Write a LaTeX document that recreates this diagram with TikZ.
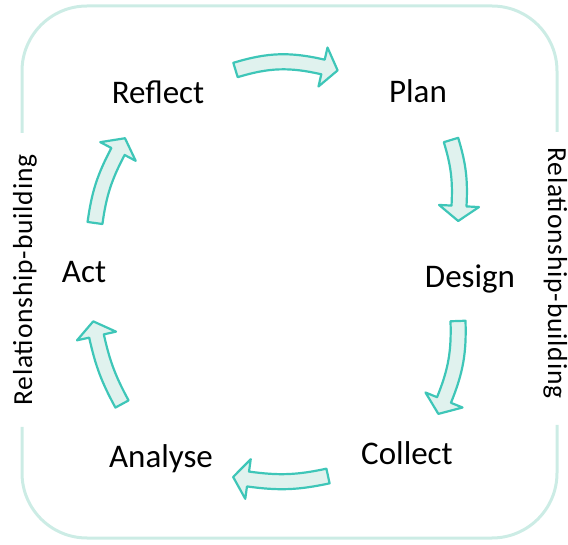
\documentclass[tikz,border=0pt]{standalone}
\usepackage{fontspec}
\setmainfont{Carlito}
\usepackage{tikz}
\usetikzlibrary{calc}
\definecolor{framecol}{RGB}{204, 236, 229}
\definecolor{cycleline}{RGB}{62, 198, 184}
\definecolor{cyclefill}{RGB}{224, 242, 238}
\tikzstyle{stage} = [draw=none, fill=none, text centered, anchor=base, font=\fontsize{33}{39}\selectfont]
\tikzstyle{side} = [draw=none, fill=none, text centered, anchor=base, font=\fontsize{27.5}{33}\selectfont\addfontfeatures{LetterSpace=3}]
\tikzstyle{frame} = [draw=framecol, line width=3pt, rounded corners=65pt]
\tikzstyle{flow} = [draw=cycleline, line width=2.2pt, fill=cyclefill, line join=round]
\def\shaftw{7.5pt}
\def\headw{20pt}
\def\headl{15pt}
% block arrow: tail, neck, bend
\newcommand{\flowarrow}[3]{%
  \path[flow] let \p1 = ($(#2)-(#1)$), \n1 = {atan2(\y1,\x1)}, \n2 = {\n1+#3}, \n3 = {\n1-#3} in
    ($(#1)+(\n2-90:\shaftw)$) to[bend left=#3] ($(#2)+(\n3-90:\shaftw)$)
    -- ($(#2)+(\n3-90:\headw)$) -- ($(#2)+(\n3:\headl)$) -- ($(#2)+(\n3+90:\headw)$)
    -- ($(#2)+(\n3+90:\shaftw)$) to[bend right=#3] ($(#1)+(\n2+90:\shaftw)$) -- cycle;}

\begin{document}
\begin{tikzpicture}[x=1pt, y=1pt]
\useasboundingbox (0,0) rectangle (568,544);

% frame ==================================
\draw[frame] (22,411) |- (557,538) -- (557,412);
\draw[frame] (557,119) |- (22,6) -- (22,117);

% side texts
\node[side, rotate=90] (relL) at (32,264) {Relationship-building};
\node[side, rotate=-90] (relR) at (548,271) {Relationship-building};

% stages =================================
\node[stage] (reflect) at (158,440) {Reflect};
\node[stage] (plan) at (418,441) {Plan};
\node[stage] (design) at (470,256) {Design};
\node[stage] (collect) at (407,79) {Collect};
\node[stage] (analyse) at (161,76) {Analyse};
\node[stage] (act) at (84,261) {Act};

% arrow ends
\coordinate (t1) at (235.5,474);
\coordinate (n1) at (323,477);
\coordinate (t2) at (451,404);
\coordinate (n2) at (459,338);
\coordinate (t3) at (458,223);
\coordinate (n3) at (444,144);
\coordinate (t4) at (328,68);
\coordinate (n4) at (248,65);
\coordinate (t5) at (122,140);
\coordinate (n5) at (96.5,208);
\coordinate (t6) at (95,321);
\coordinate (n6) at (118,392.5);

%arrows
\flowarrow{t1}{n1}{15}
\flowarrow{t2}{n2}{10}
\flowarrow{t3}{n3}{12}
\flowarrow{t4}{n4}{10}
\flowarrow{t5}{n5}{8}
\flowarrow{t6}{n6}{10}

\end{tikzpicture}
\end{document}
